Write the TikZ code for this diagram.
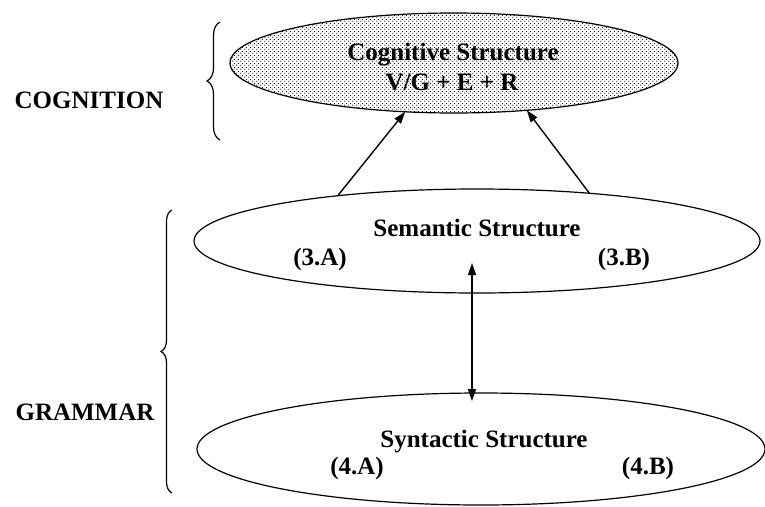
\documentclass[tikz,border=0pt]{standalone}
\usepackage{fontspec}
\setmainfont{Liberation Serif}
\usetikzlibrary{arrows.meta,decorations.pathreplacing,patterns.meta,shapes.geometric}
\pgfdeclarepattern{
  name=stipple,
  type=uncolored,
  bottom left={\pgfpoint{0pt}{0pt}},
  top right={\pgfpoint{4pt}{4pt}},
  tile size={\pgfpoint{4pt}{4pt}},
  code={
    \pgfpathcircle{\pgfpoint{1pt}{1pt}}{0.75pt}
    \pgfpathcircle{\pgfpoint{3pt}{3pt}}{0.75pt}
    \pgfusepath{fill}
  }
}
\begin{document}
\begin{tikzpicture}[x=1pt,y=-1pt,
  oval/.style={draw,ellipse,line width=1.2pt,inner sep=0pt,outer sep=0pt},
  lbl/.style={font=\bfseries\fontsize{25}{29}\selectfont,inner sep=0pt,anchor=base},
  conn/.style={line width=1.4pt,-{Triangle[length=12pt,width=8pt]}},
  dconn/.style={line width=1.4pt,{Triangle[length=12pt,width=8pt]}-{Triangle[length=12pt,width=8pt]}},
  bracestyle/.style={decorate,decoration={brace,amplitude=#1},line width=1.2pt}]
\useasboundingbox (0,0) rectangle (765,506);
% ellipses
\node[oval,pattern=stipple,minimum width=448pt,minimum height=100pt] (cog) at (454,63) {};
\node[oval,minimum width=566pt,minimum height=104pt] (sem) at (477,241) {};
\node[oval,minimum width=568pt,minimum height=112pt] (syn) at (481,449) {};
% texts
\node[lbl] (cogt1) at (453,60) {Cognitive Structure};
\node[lbl] (cogt2) at (452,90) {V/G + E + R};
\node[lbl] (semt) at (477,236) {Semantic Structure};
\node[lbl] (sema) at (320,265) {(3.A)};
\node[lbl] (semb) at (624,265) {(3.B)};
\node[lbl] (synt) at (484,447) {Syntactic Structure};
\node[lbl] (syna) at (357,474) {(4.A)};
\node[lbl] (synb) at (648,474) {(4.B)};
\node[lbl] (cogn) at (89,108) {COGNITION};
\node[lbl] (gram) at (85,420) {GRAMMAR};
% braces
\coordinate (tb1) at (220,140);
\coordinate (tb2) at (220,22);
\draw[bracestyle=13pt] (tb1) -- (tb2);
\coordinate (gb1) at (172,493);
\coordinate (gb2) at (172,210);
\draw[bracestyle=11pt] (gb1) -- (gb2);
% connectors
\draw[conn] (sem.162.6) -- (cog.225);
\draw[conn] (sem.23.1) -- (cog.-33);
\coordinate (va) at (472,263);
\coordinate (vb) at (472,401);
\draw[dconn] (va) -- (vb);
\end{tikzpicture}
\end{document}
